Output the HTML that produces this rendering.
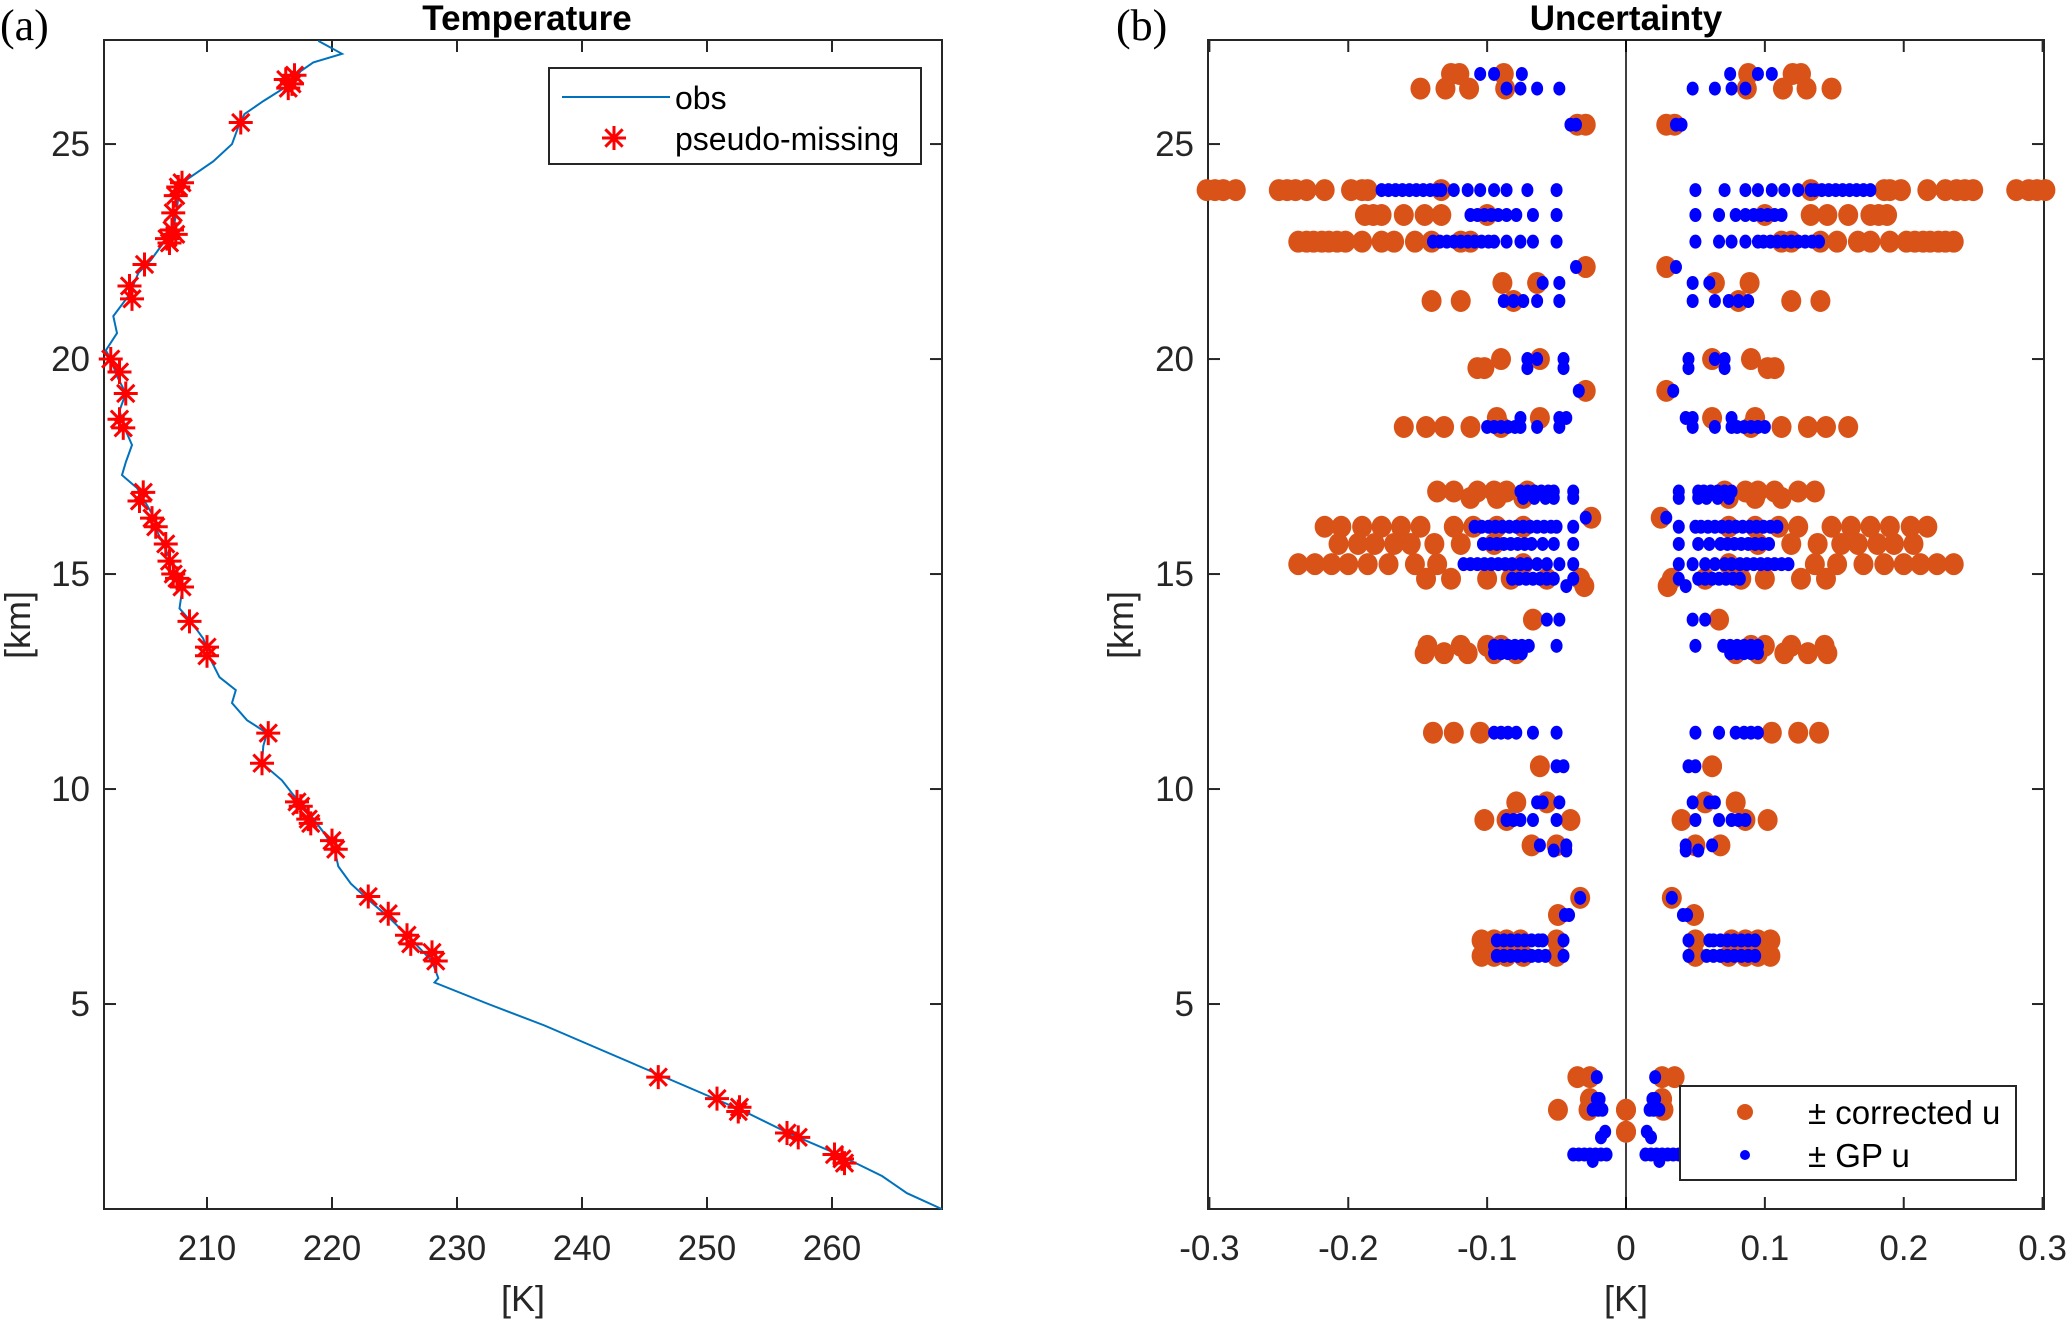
<!DOCTYPE html>
<html><head><meta charset="utf-8"><style>
html,body{margin:0;padding:0;background:#fff;}
svg{display:block;font-family:"Liberation Sans",sans-serif;}
</style></head><body>
<svg id="fig" width="2067" height="1322" viewBox="0 0 2067 1322" xmlns="http://www.w3.org/2000/svg">
<g id="pa"></g>
<g id="pb"></g>
</svg>
<script>
// ---- Panel (a) data ----
const obsZ = [27.4,27.1,26.9,26.7,26.4,26.0,25.7,25.4,25.0,24.6,24.2,24.0,23.5,23.0,22.7,22.3,22.0,21.5,21.0,20.6,20.2,20.0,19.6,19.2,18.8,18.4,18.0,17.6,17.3,17.0,16.7,16.3,16.0,15.5,15.0,14.6,14.2,13.9,13.5,13.0,12.6,12.3,12.0,11.6,11.3,11.0,10.6,10.2,9.9,9.5,9.0,8.6,8.2,7.8,7.4,7.0,6.6,6.0,5.6,5.5,5.0,4.5,4.0,3.5,3.0,2.5,2.0,1.5,1.0,0.6,0.23];
const obsT = [218.9,220.8,218.5,217.5,216.7,214.5,213.0,212.5,212.0,210.5,208.5,207.8,207.6,207.3,206.5,205.5,204.5,203.8,202.5,202.8,201.9,202.3,202.8,203.5,203.0,203.4,204.0,203.5,203.2,204.4,205.0,205.8,206.0,206.8,207.5,208.0,207.8,208.7,209.7,210.3,211.0,212.3,212.0,213.2,214.8,214.5,214.4,216.0,216.8,218.0,219.3,220.2,220.5,221.5,223.0,224.6,226.0,228.0,228.5,228.2,232.5,237.0,241.0,245.0,249.0,253.0,256.5,260.5,264.0,266.0,268.8];
const missT = [217.0,216.5,216.8,216.3,212.7,207.7,207.5,208.0,207.3,207.2,206.8,207.5,207.0,205.0,203.8,204.0,202.3,203.0,203.5,203.0,203.3,204.9,204.6,205.6,205.9,206.7,207.0,207.3,207.6,208.0,208.6,210.0,210.0,214.9,214.4,217.2,217.5,218.1,218.3,220.0,220.3,222.9,224.5,226.0,226.3,228.0,228.3,246.1,250.8,252.6,252.5,256.4,257.3,260.2,260.8,261.0];
const missZ = [26.6,26.3,26.4,26.5,25.5,24.0,23.8,24.1,23.4,23.0,22.8,22.9,22.7,22.2,21.7,21.4,20.0,19.7,19.2,18.6,18.4,16.9,16.7,16.3,16.1,15.7,15.3,15.0,14.9,14.7,13.9,13.3,13.1,11.3,10.6,9.7,9.6,9.3,9.2,8.8,8.6,7.5,7.1,6.6,6.4,6.2,6.0,3.3,2.8,2.6,2.5,2.0,1.9,1.5,1.4,1.3];
const aXTicks = [210,220,230,240,250,260];
const yTicks = [5,10,15,20,25];
// ---- Panel (b) data: altitude rows, corrected u, GP u (plotted as ±) ----
const rowZ = [26.63,26.29,25.45,23.93,23.35,22.73,22.14,21.77,21.35,20.0,19.79,19.26,18.63,18.42,16.92,16.77,16.31,16.10,15.70,15.23,14.89,14.72,13.94,13.33,13.16,11.31,10.53,9.69,9.28,8.69,8.57,7.47,7.07,6.48,6.12,3.30,2.79,2.54,2.03,1.9,1.5,1.35];
const corrU = [
 [0.126,0.12,0.088],
 [0.148,0.13,0.113,0.087],
 [0.029,0.035],
 [0.302,0.296,0.290,0.281,0.250,0.244,0.238,0.230,0.217,0.198,0.190,0.186,0.133],
 [0.188,0.182,0.176,0.160,0.145,0.133,0.1],
 [0.236,0.230,0.225,0.219,0.214,0.208,0.202,0.19,0.176,0.167,0.152,0.14,0.119,0.112],
 [0.029],
 [0.089,0.064],
 [0.14,0.119,0.081],
 [0.09,0.062],
 [0.107,0.102],
 [0.029],
 [0.093,0.062],
 [0.16,0.144,0.131,0.112,0.09],
 [0.136,0.124,0.107,0.095,0.086,0.071],
 [0.112,0.093,0.074],
 [0.025],
 [0.217,0.205,0.19,0.176,0.162,0.148,0.124,0.11,0.093,0.074],
 [0.207,0.193,0.181,0.167,0.155,0.138,0.119,0.095],
 [0.236,0.224,0.212,0.2,0.186,0.171,0.152,0.136,0.074],
 [0.144,0.126,0.1,0.083,0.057,0.033],
 [0.03],
 [0.067],
 [0.143,0.119,0.1,0.09],
 [0.145,0.131,0.114,0.095,0.079],
 [0.139,0.124,0.105],
 [0.062],
 [0.079,0.057],
 [0.102,0.086,0.04],
 [0.068,0.05],
 [],
 [0.033],
 [0.049],
 [0.104,0.095,0.086,0.076,0.05],
 [0.104,0.095,0.086,0.074,0.05],
 [0.035,0.026],
 [0.026],
 [0.049,0.027,0.0],
 [0.0],
 [],
 [],
 []
];
const gpU = [
 [0.105,0.095,0.075],
 [0.086,0.076,0.064,0.048],
 [0.04,0.036],
 [0.176,0.171,0.166,0.161,0.156,0.151,0.146,0.141,0.136,0.133,0.124,0.114,0.105,0.095,0.086,0.071,0.05],
 [0.112,0.107,0.102,0.097,0.092,0.086,0.079,0.067,0.05],
 [0.139,0.134,0.129,0.124,0.119,0.114,0.109,0.104,0.099,0.095,0.086,0.076,0.067,0.05],
 [0.036],
 [0.06,0.048],
 [0.088,0.081,0.074,0.064,0.048],
 [0.071,0.064,0.045],
 [0.071,0.045],
 [0.034],
 [0.076,0.048,0.043],
 [0.1,0.095,0.09,0.085,0.08,0.076,0.064,0.048],
 [0.076,0.071,0.066,0.061,0.056,0.052,0.038],
 [0.074,0.066,0.058,0.052,0.038],
 [0.029],
 [0.109,0.104,0.099,0.094,0.089,0.084,0.079,0.074,0.069,0.064,0.059,0.054,0.05,0.038],
 [0.103,0.098,0.093,0.088,0.083,0.078,0.073,0.068,0.06,0.052,0.038],
 [0.117,0.112,0.107,0.102,0.097,0.092,0.087,0.082,0.076,0.071,0.064,0.057,0.048,0.038],
 [0.082,0.077,0.072,0.067,0.062,0.057,0.052,0.038],
 [0.043],
 [0.057,0.048],
 [0.095,0.09,0.085,0.08,0.075,0.07,0.05],
 [0.095,0.09,0.085,0.08,0.075],
 [0.095,0.09,0.085,0.079,0.067,0.05],
 [0.05,0.045],
 [0.064,0.06,0.048],
 [0.086,0.081,0.076,0.067,0.05],
 [0.062,0.043],
 [0.052,0.043],
 [0.033],
 [0.044,0.041],
 [0.093,0.088,0.083,0.078,0.073,0.068,0.063,0.06,0.045],
 [0.093,0.088,0.083,0.078,0.073,0.068,0.063,0.058,0.045],
 [0.021],
 [0.019,0.021],
 [0.024,0.017,0.02],
 [0.015],
 [0.018],
 [0.038,0.034,0.03,0.026,0.022,0.018,0.014],
 [0.024]
];
const bXTicks = [-0.3,-0.2,-0.1,0,0.1,0.2,0.3];
const bXLabels = ["-0.3","-0.2","-0.1","0","0.1","0.2","0.3"];

const NS = "http://www.w3.org/2000/svg";
function mk(parent, tag, attrs, text){
  const e = document.createElementNS(NS, tag);
  for (const k in attrs) e.setAttribute(k, attrs[k]);
  if (text !== undefined) e.textContent = text;
  parent.appendChild(e);
  return e;
}
const TOP = 40, BOT = 1209, ZMIN = 0.233, ZMAX = 27.42;
function yS(z){ return BOT - (z - ZMIN) / (ZMAX - ZMIN) * (BOT - TOP); }
const A = {l:104, r:942, min:201.76, max:268.8};
function xA(t){ return A.l + (t - A.min) / (A.max - A.min) * (A.r - A.l); }
const B = {l:1208, r:2044, min:-0.301, max:0.301};
function xB(u){ return B.l + (u - B.min) / (B.max - B.min) * (B.r - B.l); }

function axes(g, L, R, xt, xf, xl, which){
  let e;
  for (const t of yTicks){
    const y = yS(t);
    e = mk(g,'line',{x1:L,x2:L+12,y1:y,y2:y,stroke:'#262626','stroke-width':2});
     
    e = mk(g,'line',{x1:R-12,x2:R,y1:y,y2:y,stroke:'#262626','stroke-width':2});
     
    e = mk(g,'text',{x:L-14,y:y+12,'text-anchor':'end','font-size':35,fill:'#262626'},String(t));
     
  }
  xt.forEach((t,i)=>{
    const x = xf(t);
    e = mk(g,'line',{x1:x,x2:x,y1:BOT,y2:BOT-12,stroke:'#262626','stroke-width':2});
     
    e = mk(g,'line',{x1:x,x2:x,y1:TOP,y2:TOP+12,stroke:'#262626','stroke-width':2});
     
    e = mk(g,'text',{x:x,y:1260,'text-anchor':'middle','font-size':35,fill:'#262626'},xl[i]);
     
  });
  e = mk(g,'rect',{x:L,y:TOP,width:R-L,height:BOT-TOP,fill:'none',stroke:'#262626','stroke-width':2});
   
  e = mk(g,'text',{x:(L+R)/2,y:1311,'text-anchor':'middle','font-size':36,fill:'#262626'},'[K]');
   
  const yx = which==='a' ? 30 : 1133;
  e = mk(g,'text',{x:yx,y:625,'text-anchor':'middle','font-size':36,fill:'#262626',transform:`rotate(-90 ${yx} 625)`},'[km]');
   
}

// Panel a
const pa = document.getElementById('pa');
axes(pa, A.l, A.r, aXTicks, xA, aXTicks.map(String), 'a');
let el;
el = mk(pa,'text',{x:527,y:30,'text-anchor':'middle','font-size':35,'font-weight':'bold',fill:'#000'},'Temperature');
 
el = mk(pa,'text',{x:0,y:40,'font-size':44,'font-family':'Liberation Serif, serif',fill:'#000'},'(a)');
 
el = mk(pa,'polyline',{points:obsZ.map((z,i)=>xA(obsT[i]).toFixed(1)+','+yS(z).toFixed(1)).join(' '),fill:'none',stroke:'#0072BD','stroke-width':2});
 
function star(g,cx,cy,s){
  const p=[];
  p.push(`M${cx-s},${cy}L${cx+s},${cy}`);
  p.push(`M${cx},${cy-s}L${cx},${cy+s}`);
  const d=s*0.72;
  p.push(`M${cx-d},${cy-d}L${cx+d},${cy+d}`);
  p.push(`M${cx-d},${cy+d}L${cx+d},${cy-d}`);
  return mk(g,'path',{d:p.join(''),stroke:'#FF0000','stroke-width':3,fill:'none'});
}
missT.forEach((t,i)=>{
  const s = star(pa, xA(t), yS(missZ[i]), 12);
  
  
});
// legend a
const la = mk(pa,'g',{});
 
el = mk(la,'rect',{x:549,y:68,width:372,height:96,fill:'#fff',stroke:'#262626','stroke-width':2});
 
el = mk(la,'line',{x1:562,x2:670,y1:97,y2:97,stroke:'#0072BD','stroke-width':2});
 
el = mk(la,'text',{x:675,y:109,'font-size':32,fill:'#000'},'obs');
 
el = star(la,614,138,12);
 
el = mk(la,'text',{x:675,y:150,'font-size':32,fill:'#000'},'pseudo-missing');
 

// Panel b
const pb = document.getElementById('pb');
axes(pb, B.l, B.r, bXTicks, xB, bXLabels, 'b');
el = mk(pb,'text',{x:1626,y:30,'text-anchor':'middle','font-size':35,'font-weight':'bold',fill:'#000'},'Uncertainty');
 
el = mk(pb,'text',{x:1116,y:40,'font-size':44,'font-family':'Liberation Serif, serif',fill:'#000'},'(b)');
 
el = mk(pb,'line',{x1:xB(0),x2:xB(0),y1:TOP,y2:BOT,stroke:'#000','stroke-width':1.5});
 
const gC = mk(pb,'g',{fill:'#D95319'});
 
const gG = mk(pb,'g',{fill:'#0000FF'});
 
rowZ.forEach((z,i)=>{
  const y = yS(z);
  corrU[i].forEach(u=>{
    [u,-u].forEach(v=>{
      const c = mk(gC,'ellipse',{cx:xB(v),cy:y,rx:10,ry:11});
      
      
    });
  });
});
rowZ.forEach((z,i)=>{
  const y = yS(z);
  gpU[i].forEach(u=>{
    [u,-u].forEach(v=>{
      const c = mk(gG,'ellipse',{cx:xB(v),cy:y,rx:6,ry:7});
      
      
    });
  });
});
const lb = mk(pb,'g',{});
 
el = mk(lb,'rect',{x:1680,y:1086,width:336,height:94,fill:'#fff',stroke:'#262626','stroke-width':2});
 
el = mk(lb,'circle',{cx:1745,cy:1112,r:8,fill:'#D95319'});
 
el = mk(lb,'text',{x:1808,y:1124,'font-size':33,fill:'#000'},'± corrected u');
 
el = mk(lb,'circle',{cx:1745,cy:1155,r:5,fill:'#0000FF'});
 
el = mk(lb,'text',{x:1808,y:1167,'font-size':33,fill:'#000'},'± GP u');
 
</script>
</body></html>
